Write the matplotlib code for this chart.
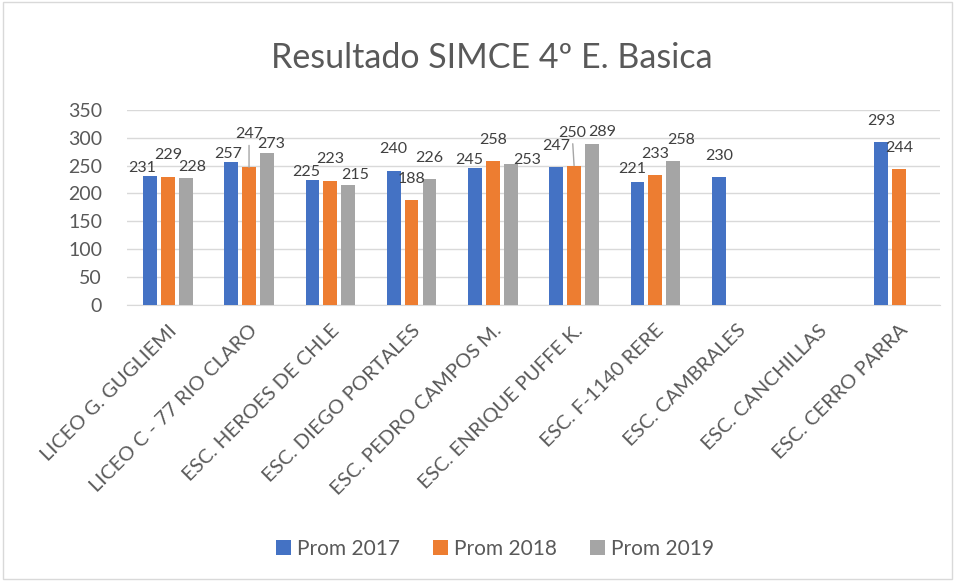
import numpy as np
import matplotlib
matplotlib.use("Agg")
import matplotlib.pyplot as plt
from matplotlib.patches import Rectangle

plt.rcParams["font.family"] = ["Lato", "DejaVu Sans"]

escuelas = [
    "LICEO G. GUGLIEMI", "LICEO C - 77 RIO CLARO", "ESC. HEROES DE CHLE",
    "ESC. DIEGO PORTALES", "ESC. PEDRO CAMPOS M.", "ESC. ENRIQUE PUFFE K.",
    "ESC. F-1140 RERE", "ESC. CAMBRALES", "ESC. CANCHILLAS", "ESC. CERRO PARRA",
]
nan = np.nan
prom_2017 = [231, 257, 225, 240, 245, 247, 221, 230, nan, 293]
prom_2018 = [229, 247, 223, 188, 258, 250, 233, nan, nan, 244]
prom_2019 = [228, 273, 215, 226, 253, 289, 258, nan, nan, nan]
series = [("Prom 2017", prom_2017), ("Prom 2018", prom_2018), ("Prom 2019", prom_2019)]
colores = ["#4472C4", "#ED7D31", "#A5A5A5"]

# desplazamiento de etiquetas (px) como en el original; True = línea guía
desp = [
    [(-8, 8), (-3, 8), (-6, 8), (0, 22), (-6, 8), (0, 21), (-5, 13), (0, 21), None, (0, 21)],
    [(0, 22), (0, 33, True), (0, 22), (0, 21), (0, 21), (-2, 33, True), (0, 21), None, None, (0, 21)],
    [(7, 11), (4, 9), (7, 10), (0, 21), (16, 4), (10, 12), (8, 21), None, None, None],
]

gris_texto = "#595959"

fig = plt.figure(figsize=(9.56, 5.81), dpi=100)
ax = fig.add_axes([0.133, 0.475, 0.850, 0.336])

x = np.arange(len(escuelas))
ancho = 0.17
paso = 0.22
for i, ((nombre, vals), color) in enumerate(zip(series, colores)):
    xs = x + (i - 1) * paso
    ax.bar(xs, vals, width=ancho, color=color, label=nombre, zorder=3)
    for j, v in enumerate(vals):
        if np.isnan(v) or desp[i][j] is None:
            continue
        d = desp[i][j]
        props = None
        if len(d) > 2:
            props = dict(arrowstyle="-", color="#A6A6A6", lw=1, shrinkA=1, shrinkB=0)
        ax.annotate(f"{v:.0f}", xy=(xs[j], v), xytext=(d[0], d[1]),
                    textcoords="offset pixels", ha="center", va="center",
                    fontsize=11.5, color="#404040", arrowprops=props, zorder=4)

ax.set_xlim(-0.5, len(escuelas) - 0.5)
ax.set_ylim(0, 350)
ax.set_yticks(np.arange(0, 351, 50))
ax.grid(axis="y", color="#D9D9D9", lw=1, zorder=0)
for s in ["top", "right", "left"]:
    ax.spines[s].set_visible(False)
ax.spines["bottom"].set_color("#D9D9D9")
ax.tick_params(axis="y", length=0, pad=18, labelsize=14, labelcolor=gris_texto)
ax.tick_params(axis="x", length=0, pad=12, labelsize=14.5, labelcolor=gris_texto)
ax.set_xticks(x)
ax.set_xticklabels(escuelas, rotation=45, ha="right", rotation_mode="anchor")

fig.text(0.514, 0.90, "Resultado SIMCE 4º E. Basica", ha="center", va="center",
         fontsize=24.5, color=gris_texto)

handles, labels = ax.get_legend_handles_labels()
fig.legend(handles, labels, loc="center", bbox_to_anchor=(0.518, 0.055), ncol=3,
           frameon=False, fontsize=15, labelcolor=gris_texto, handlelength=0.7,
           handleheight=0.7, handletextpad=0.3, columnspacing=1.6)

fig.patches.append(Rectangle((0.003, 0.004), 0.993, 0.992, transform=fig.transFigure,
                             fill=False, edgecolor="#D9D9D9", lw=1))

fig.savefig("out.png", dpi=100)
